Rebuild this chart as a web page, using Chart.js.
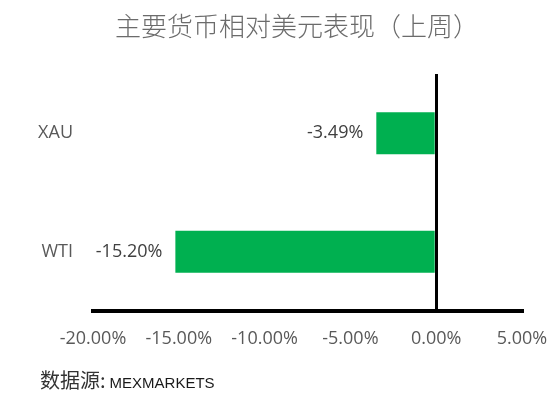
<!DOCTYPE html>
<html>
<head>
<meta charset="utf-8">
<script src="https://cdn.jsdelivr.net/npm/chart.js@4"></script>
<style>
  html, body { margin: 0; padding: 0; background: #fff; }
  #wrap { width: 548px; height: 414px; }
</style>
</head>
<body>
<div id="wrap"><canvas id="chart" width="548" height="414"></canvas></div>
<script>
// Weekly performance vs USD
const categories = ['XAU', 'WTI'];
const changes = [-3.49, -15.20];   // percent
const xTicks = { min: -20, max: 5, step: 5 };
const titleText = '主要货币相对美元表现（上周）';
const sourceLabel = '数据源:';
const sourceName = 'MEXMARKETS';

const pct = v => v.toFixed(2) + '%';

// value labels to the left of each bar
const barLabels = {
  id: 'barLabels',
  afterDatasetsDraw(chart){
    const ctx = chart.ctx;
    const meta = chart.getDatasetMeta(0);
    ctx.save();
    ctx.font = '18px "Open Sans"';
    ctx.fillStyle = '#404040';
    ctx.textAlign = 'right';
    ctx.textBaseline = 'middle';
    meta.data.forEach((bar, i) => {
      const left = Math.min(bar.x, bar.base);
      ctx.fillText(pct(changes[i]), left - 13, bar.y);
    });
    ctx.restore();
  }
};

// title and source note
const headerFooter = {
  id: 'headerFooter',
  afterDraw(chart){
    const ctx = chart.ctx;
    ctx.save();
    ctx.fillStyle = '#6b6b6b';
    ctx.textAlign = 'center';
    ctx.textBaseline = 'middle';
    ctx.font = '300 26px "Noto Sans CJK SC"';
    ctx.fillText(titleText, 297, 26);

    ctx.textAlign = 'left';
    ctx.textBaseline = 'alphabetic';
    ctx.fillStyle = '#333';
    ctx.font = '20px "Noto Sans CJK SC"';
    ctx.fillText(sourceLabel, 40, 388);
    const w = ctx.measureText(sourceLabel).width;
    ctx.fillStyle = '#1a1a1a';
    ctx.font = '15px "Liberation Sans"';
    ctx.fillText(sourceName, 40 + w + 4, 388);
    ctx.restore();
  }
};

new Chart(document.getElementById('chart'), {
  type: 'bar',
  data: {
    labels: categories,
    datasets: [{
      data: changes,
      backgroundColor: '#00B050',
      barPercentage: 0.355,
      categoryPercentage: 1
    }]
  },
  options: {
    indexAxis: 'y',
    responsive: false,
    animation: false,
    devicePixelRatio: 1,
    layout: { padding: { top: 74, bottom: 60, left: 0, right: 0 } },
    plugins: { legend: { display: false }, tooltip: { enabled: false } },
    scales: {
      x: {
        min: xTicks.min,
        max: xTicks.max,
        ticks: {
          stepSize: xTicks.step,
          padding: 17,
          maxRotation: 0,
          color: '#595959',
          font: { family: 'Open Sans', size: 18 },
          callback: v => pct(v === 0 ? 0 : v)
        },
        grid: {
          drawTicks: false,
          color: c => (c.tick && c.tick.value === 0) ? '#000' : 'rgba(0,0,0,0)',
          lineWidth: 3
        },
        border: { display: true, color: '#000', width: 4 },
        afterFit: s => { s.height = 43; s.paddingRight = 26; s.paddingLeft = 0; }
      },
      y: {
        ticks: {
          padding: 20,
          color: '#595959',
          font: { family: 'Open Sans', size: 18 }
        },
        grid: { display: false, drawTicks: false },
        border: { display: false },
        afterFit: s => { s.width = 93; }
      }
    }
  },
  plugins: [barLabels, headerFooter]
});
</script>
</body>
</html>
